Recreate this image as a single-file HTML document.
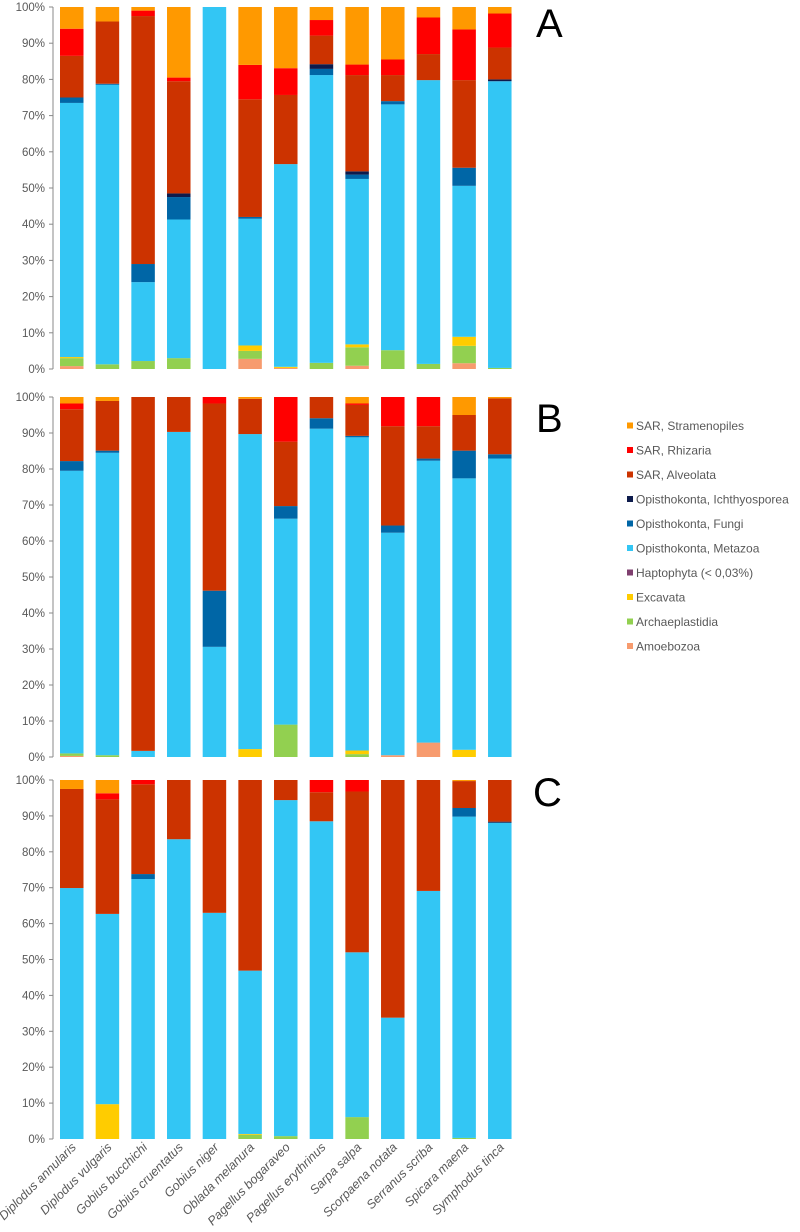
<!DOCTYPE html>
<html><head><meta charset="utf-8"><style>
body{margin:0;background:#fff;}
svg{display:block;font-family:"Liberation Sans",sans-serif;}
</style></head><body>
<svg id="chart" width="800" height="1232" viewBox="0 0 800 1232"></svg>
<script>
const species=["Diplodus annularis","Diplodus vulgaris","Gobius bucchichi","Gobius cruentatus","Gobius niger","Oblada melanura","Pagellus bogaraveo","Pagellus erythrinus","Sarpa salpa","Scorpaena notata","Serranus scriba","Spicara maena","Symphodus tinca"];
const groups=["Amoebozoa","Archaeplastidia","Excavata","Haptophyta (< 0,03%)","Opisthokonta, Metazoa","Opisthokonta, Fungi","Opisthokonta, Ichthyosporea","SAR, Alveolata","SAR, Rhizaria","SAR, Stramenopiles"];
const colors=["#F79B6E","#92D050","#FFCC00","#7F3F6F","#33C6F4","#0066A6","#0D1B4C","#CC3300","#FF0000","#FF9900"];
const yTicks=[0,10,20,30,40,50,60,70,80,90,100];
const panelA=[
[0.8,2.2,0.3,0,70.2,1.5,0,11.5,7.5,6.0],
[0,1.3,0,0,77.2,0.3,0,17.2,0,4.0],
[0,2.2,0,0,21.8,5.0,0,68.5,1.5,1.0],
[0,3.0,0,0,38.3,6.2,1.0,31.0,1.0,19.5],
[0,0,0,0,100,0,0,0,0,0],
[2.8,2.2,1.5,0,35.0,0.5,0,32.5,9.5,16.0],
[0.3,0,0.3,0,56.0,0,0,19.1,7.4,16.9],
[0,1.7,0,0,79.5,1.7,1.3,7.9,4.3,3.6],
[0.9,5.1,0.8,0,45.7,1.2,0.9,26.6,2.9,15.9],
[0,5.2,0,0,67.9,0.9,0,7.2,4.3,14.5],
[0,1.4,0,0,78.4,0,0,7.2,10.1,2.9],
[1.6,4.8,2.5,0,41.7,5.0,0,24.2,14.0,6.2],
[0,0.3,0,0,79.2,0,0.5,8.8,9.4,1.8]];
const panelB=[
[0.3,0.7,0,0,78.5,2.7,0,14.4,1.6,1.8],
[0,0.5,0,0,84.0,0.6,0,13.8,0,1.1],
[0,0,0,0,1.7,0,0,98.3,0,0],
[0,0,0,0,90.3,0,0,9.7,0,0],
[0,0,0,0,30.6,15.6,0,52.0,1.8,0],
[0,0,2.2,0,87.5,0,0,9.8,0,0.5],
[0,9.0,0,0,57.2,3.5,0,17.9,12.4,0],
[0,0,0,0,91.2,2.9,0,5.9,0,0],
[0,0.8,1.0,0,87.0,0.4,0,8.6,0.4,1.8],
[0.5,0,0,0,61.8,2.0,0,27.6,8.1,0],
[4.0,0,0,0,78.3,0.6,0,9.0,8.1,0],
[0,0,2.0,0,75.4,7.7,0,9.9,0,5.0],
[0,0,0,0,82.9,1.2,0,15.5,0,0.4]];
const panelC=[
[0,0,0,0,69.9,0,0,27.6,0,2.5],
[0,0,9.7,0,53.0,0,0,31.9,1.7,3.7],
[0,0,0,0,72.4,1.4,0,25.0,1.2,0],
[0,0,0,0,83.5,0,0,16.5,0,0],
[0,0,0,0,63.0,0,0,37.0,0,0],
[0,1.2,0.2,0,45.5,0,0,53.1,0,0],
[0,0.8,0,0,93.6,0,0,5.6,0,0],
[0,0,0,0,88.5,0,0,8.1,3.4,0],
[0,6.1,0,0,45.9,0,0,44.8,3.2,0],
[0,0,0,0,33.8,0,0,66.2,0,0],
[0,0,0,0,69.1,0,0,30.9,0,0],
[0,0.3,0,0,89.5,2.4,0,7.5,0,0.3],
[0,0,0,0,88.1,0,0.3,11.6,0,0]];
const panels=[{id:"a",label:"A",data:panelA,top:7,bottom:369,lx:536,ly:37},
{id:"b",label:"B",data:panelB,top:397,bottom:757,lx:536,ly:432},
{id:"c",label:"C",data:panelC,top:780,bottom:1139,lx:533,ly:806}];
const NS="http://www.w3.org/2000/svg";
const svg=document.getElementById("chart");
function mk(tag,attrs,parent){const e=document.createElementNS(NS,tag);for(const k in attrs)e.setAttribute(k,attrs[k]);(parent||svg).appendChild(e);return e;}
const x0=60,step=35.67,bw=23.5;
function xPos(i){return x0+i*step;}
panels.forEach(p=>{
  const g=mk("g",{});
  
  
  const yS=v=>p.bottom-(p.bottom-p.top)*v/100;
  const ax=mk("line",{x1:53,x2:53,y1:p.top,y2:p.bottom,stroke:"#888","stroke-width":1},g);
  
  
  yTicks.forEach(t=>{
    const y=yS(t);
    mk("line",{x1:49,x2:53,y1:y,y2:y,stroke:"#888"},g);
    const tx=mk("text",{x:45,y:y+4,"text-anchor":"end","font-size":"11.5",fill:"#595959"},g);
    tx.textContent=t+"%";
    
    
  });
  p.data.forEach((vals,i)=>{
    let cum=0;
    vals.forEach((v,k)=>{
      if(v<=0)return;
      const r=mk("rect",{x:xPos(i),y:yS(cum+v),width:bw,height:yS(cum)-yS(cum+v),fill:colors[k]},g);
      
      
      cum+=v;
    });
  });
  const L=mk("text",{x:p.lx,y:p.ly,"font-size":"40",fill:"#000"},g);
  L.textContent=p.label;
  
  
});
species.forEach((s,i)=>{
  const cx=xPos(i)+bw/2+5, cy=1148;
  const t=mk("text",{x:cx,y:cy,"text-anchor":"end","font-size":"12.5","font-style":"italic",fill:"#595959",transform:`rotate(-45 ${cx} ${cy})`});
  t.textContent=s;
  
  
});
for(let k=groups.length-1;k>=0;k--){
  const row=groups.length-1-k;
  const y=426+row*24.5;
  const lg=mk("g",{});
  
  
  mk("rect",{x:627,y:y-3.5,width:6,height:6,fill:colors[k]},lg);
  const t=mk("text",{x:636,y:y+4,"font-size":"12",fill:"#595959"},lg);
  t.textContent=groups[k];
}
</script>
</body></html>
